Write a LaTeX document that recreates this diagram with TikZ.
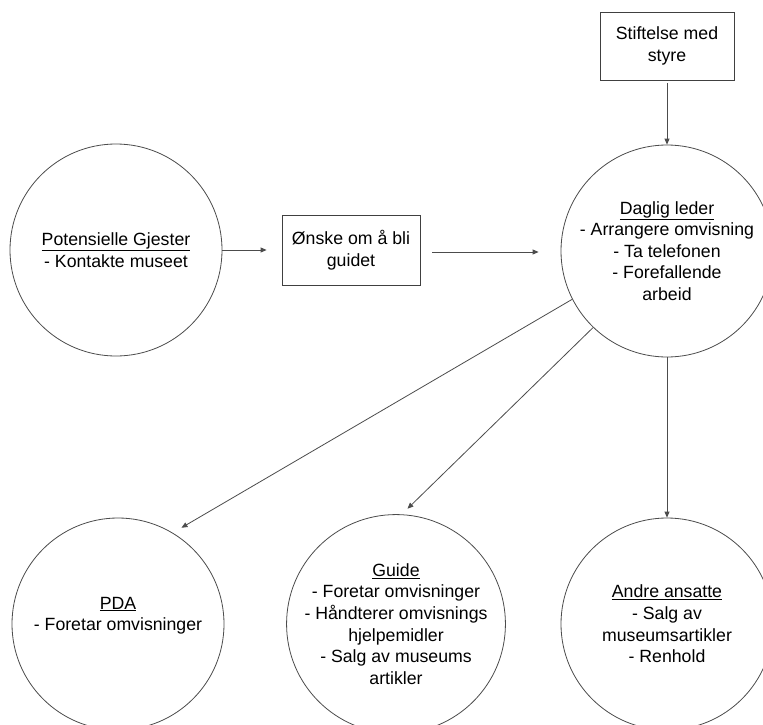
\documentclass[tikz,border=0pt]{standalone}
\usepackage{fontspec}
\setmainfont{Liberation Sans}
\usetikzlibrary{arrows.meta}
\begin{document}
\begin{tikzpicture}[x=1pt,y=-1pt,
  every node/.style={font=\fontsize{17.7}{21.6}\selectfont, text=black},
  circ/.style={circle, draw=black!70, line width=0.8pt, minimum size=212pt, inner sep=0pt, align=center},
  boxn/.style={rectangle, draw=black!75, line width=0.8pt, align=center, inner sep=0pt},
  arr/.style={draw=black!70, line width=0.8pt, -{Triangle[length=6pt,width=5pt]}}]
\useasboundingbox[fill=white] (0,0) rectangle (763,725);
\node[circ] (pg) at (116,250) {\underline{Potensielle Gjester}\\- Kontakte museet};
\node[boxn, minimum width=138pt, minimum height=70pt] (onske) at (351,250) {Ønske om å bli\\guidet};
\node[boxn, minimum width=134pt, minimum height=68pt] (stift) at (667,46) {Stiftelse med\\styre};
\node[circ] (dl) at (667,251) {\underline{Daglig leder}\\- Arrangere omvisning\\- Ta telefonen\\- Forefallende\\arbeid};
\node[circ] (pda) at (118,624) {\underline{PDA}\\- Foretar omvisninger\\[-1.5pt]};
\node[circ] (guide) at (396,624) {\underline{Guide}\\- Foretar omvisninger\\- Håndterer omvisnings\\hjelpemidler\\- Salg av museums\\artikler};
\node[circ] (andre) at (667,624) {\underline{Andre ansatte}\\- Salg av\\museumsartikler\\- Renhold};
\draw[arr] (pg.east) -- ([xshift=-15pt]onske.west);
\draw[arr] ([xshift=12pt,yshift=-2pt]onske.east) -- ([xshift=-22pt,yshift=-1pt]dl.west);
\draw[arr] ([yshift=-3pt]stift.south) -- (dl.north);
\draw[arr, shorten >=10pt] (dl.207) -- (pda.59);
\draw[arr, shorten >=8pt] (dl.226) -- (guide.87);
\draw[arr] (dl.south) -- (andre.north);
\end{tikzpicture}
\end{document}
